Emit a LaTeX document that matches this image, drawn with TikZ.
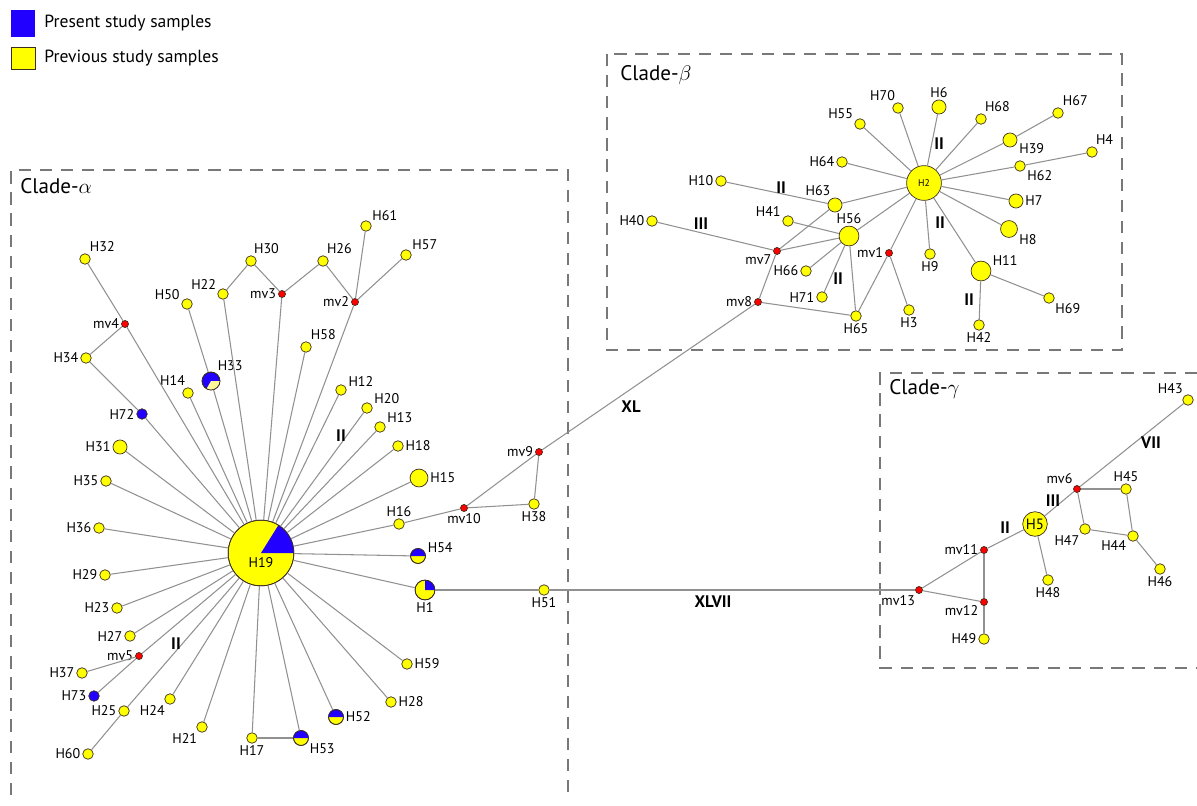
\documentclass[tikz,border=0pt]{standalone}
\usepackage{fontspec}
\setmainfont{PT Sans}
\usetikzlibrary{positioning}
\definecolor{present}{RGB}{34,0,255}
\definecolor{previous}{RGB}{255,255,0}
\definecolor{paleprev}{RGB}{255,248,150}
\definecolor{median}{RGB}{255,0,0}
\definecolor{linkgray}{RGB}{145,145,145}
\definecolor{rimcol}{RGB}{60,45,30}
\definecolor{boxgray}{RGB}{120,120,120}
\begin{document}
\begin{tikzpicture}[x=0.02cm,y=-0.02cm,
	hap/.style={circle,draw=rimcol,fill=previous,inner sep=0pt,minimum size=#1},
	hap/.default=6pt,
	mv/.style={circle,draw=rimcol,fill=median,inner sep=0pt,minimum size=4pt},
	lbl/.style={font=\fontsize{8}{8}\selectfont,inner sep=1pt},
	every label/.style={lbl},
	mut/.style={font=\fontsize{9.5}{9.5}\selectfont\bfseries,inner sep=0pt},
	link/.style={draw=linkgray,line width=0.6pt},
	clade/.style={draw=boxgray,line width=0.6pt,dash pattern=on 7pt off 5pt},
	title/.style={font=\fontsize{12}{12}\selectfont,anchor=west,inner sep=0pt}]
\useasboundingbox (0,0) rectangle (1197,805);

% legend
\node[fill=present,minimum width=13.6pt,minimum height=15.9pt,inner sep=0pt] (keyPresent) at (23,23.5) {};
\node[draw=rimcol,fill=previous,minimum width=13.6pt,minimum height=12.5pt,inner sep=0pt] (keyPrevious) at (23,58.5) {};
\node[right=5pt of keyPresent,inner sep=0pt,font=\fontsize{10}{10}\selectfont] (txtPresent) {Present study samples};
\node[right=5pt of keyPrevious,inner sep=0pt,font=\fontsize{10}{10}\selectfont] (txtPrevious) {Previous study samples};

% clade frames
\draw[clade] (11,795) -- (11,170) -- (568,170) -- (568,795);
\draw[clade] (607,54) rectangle (1122,350);
\draw[clade] (1197,373) -- (880,373) -- (880,668) -- (1197,668);
\node[title] (cladeA) at (20,186) {Clade-$\alpha$};
\node[title] (cladeB) at (620,75) {Clade-$\beta$};
\node[title] (cladeG) at (889,389) {Clade-$\gamma$};

% clade alpha
\node[hap=37.4pt,label={[yshift=-5.5pt]center:H19}] (H19) at (261,553) {};
\node[hap,label=60:H32] (H32) at (85,259) {};
\node[mv,label=left:mv4] (mv4) at (125,324) {};
\node[hap,label=left:H34] (H34) at (86,358) {};
\node[hap,fill=present,label=left:H72] (H72) at (142,414) {};
\node[hap,label=160:H50] (H50) at (187,304) {};
\node[hap,label=150:H22] (H22) at (223,294) {};
\node[hap,label=80:H30] (H30) at (251,261) {};
\node[mv,label=left:mv3] (mv3) at (282,294) {};
\node[hap=10.2pt,fill=present,label=60:H33] (H33) at (211,381) {};
\node[hap,label=100:H14] (H14) at (188,393) {};
\node[hap,label=70:H26] (H26) at (323,261) {};
\node[mv,label=left:mv2] (mv2) at (355,302) {};
\node[hap,label=40:H61] (H61) at (366,226) {};
\node[hap,label=40:H57] (H57) at (406,255) {};
\node[hap,label=60:H58] (H58) at (306,347) {};
\node[hap,label=15:H12] (H12) at (341,390) {};
\node[hap,label=20:H20] (H20) at (367,408) {};
\node[hap,label=20:H13] (H13) at (380,427) {};
\node[hap,label=right:H18] (H18) at (398,446) {};
\node[hap=10.2pt,label=right:H15] (H15) at (419,478) {};
\node[hap,label=above:H16] (H16) at (399,524) {};
\node[mv,label=below:mv10] (mv10) at (464,508) {};
\node[hap,label=below:H38] (H38) at (534,504) {};
\node[mv,label=left:mv9] (mv9) at (539,452) {};
\node[hap=8.5pt,label=10:H54] (H54) at (418,556) {};
\node[hap=11.3pt,label=below:H1] (H1) at (425,590) {};
\node[hap,label=below:H51] (H51) at (544,590) {};
\node[hap,label=right:H59] (H59) at (407,664) {};
\node[hap,label=right:H28] (H28) at (391,702) {};
\node[hap=8.5pt,label=right:H52] (H52) at (336,717) {};
\node[hap=8.5pt,label=-30:H53] (H53) at (301,738) {};
\node[hap,label=below:H17] (H17) at (252,738) {};
\node[hap,label=240:H21] (H21) at (202,727) {};
\node[hap,label=235:H24] (H24) at (170,699) {};
\node[hap,label=left:H25] (H25) at (124,711) {};
\node[hap,label=left:H60] (H60) at (88,754) {};
\node[hap,fill=present,label=left:H73] (H73) at (94,696) {};
\node[hap,label=left:H37] (H37) at (82,673) {};
\node[mv,label=left:mv5] (mv5) at (139,656) {};
\node[hap,label=left:H27] (H27) at (130,636) {};
\node[hap,label=left:H23] (H23) at (117,608) {};
\node[hap,label=left:H29] (H29) at (105,575) {};
\node[hap,label=left:H36] (H36) at (99,528) {};
\node[hap,label=left:H35] (H35) at (106,481) {};
\node[hap=8pt,label=left:H31] (H31) at (120,447) {};

% clade beta
\node[hap=19.8pt,font=\fontsize{5.5}{5.5}\selectfont] (H2) at (924,183) {H2};
\node[hap,label=150:H55] (H55) at (860,124) {};
\node[hap,label=100:H70] (H70) at (898,108) {};
\node[hap=8pt,label=above:H6] (H6) at (939,107) {};
\node[hap,label=70:H68] (H68) at (981,119) {};
\node[hap,label=60:H67] (H67) at (1058,113) {};
\node[hap=8pt,label=-10:H39] (H39) at (1010,140) {};
\node[hap,label=70:H4] (H4) at (1092,152) {};
\node[hap,label=-20:H62] (H62) at (1020,166) {};
\node[hap=8pt,label=right:H7] (H7) at (1016,201) {};
\node[hap=9.6pt,label=-20:H8] (H8) at (1009,229) {};
\node[hap,label=below:H9] (H9) at (930,254) {};
\node[hap=11.3pt,label=20:H11] (H11) at (981,271) {};
\node[hap,label=-40:H69] (H69) at (1049,298) {};
\node[hap,label=below:H3] (H3) at (909,310) {};
\node[hap,label=below:H42] (H42) at (979,325) {};
\node[hap,label=left:H64] (H64) at (842,162) {};
\node[hap,label=left:H10] (H10) at (721,181) {};
\node[hap=8pt,label=110:H63] (H63) at (835,205) {};
\node[hap,label=left:H40] (H40) at (652,221) {};
\node[hap,label=160:H41] (H41) at (788,221) {};
\node[hap=11.3pt,label=above:H56] (H56) at (849,236) {};
\node[mv,label=200:mv7] (mv7) at (777,251) {};
\node[hap,label=left:H66] (H66) at (806,271) {};
\node[hap,label=left:H71] (H71) at (822,297) {};
\node[mv,label=left:mv8] (mv8) at (758,302) {};
\node[hap,label=below:H65] (H65) at (856,316) {};
\node[mv,label=left:mv1] (mv1) at (889,253) {};

% clade gamma
\node[hap,label=125:H43] (H43) at (1188,400) {};
\node[mv,label=130:mv6] (mv6) at (1077,489) {};
\node[hap,label=above:H45] (H45) at (1126,489) {};
\node[hap=14pt,font=\fontsize{8.5}{8.5}\selectfont] (H5) at (1035,524) {H5};
\node[hap,label=230:H47] (H47) at (1085,529) {};
\node[hap,label=210:H44] (H44) at (1133,536) {};
\node[hap,label=below:H46] (H46) at (1160,569) {};
\node[mv,label=left:mv11] (mv11) at (984,550) {};
\node[hap,label=below:H48] (H48) at (1048,580) {};
\node[mv,label=240:mv13] (mv13) at (919,590) {};
\node[mv,label=200:mv12] (mv12) at (984,602) {};
\node[hap,label=left:H49] (H49) at (984,639) {};

% pie slices
\fill[present] (H19.center) -- ++(0:18.7pt) arc[start angle=0,end angle=58,radius=18.7pt] -- cycle;
\draw[rimcol] (H19.center) circle[radius=18.7pt];
\fill[paleprev] (H33.center) -- ++(240:5.1pt) arc[start angle=240,end angle=360,radius=5.1pt] -- cycle;
\draw[rimcol] (H33.center) circle[radius=5.1pt];
\fill[present] (H1.center) -- ++(0:5.65pt) arc[start angle=0,end angle=90,radius=5.65pt] -- cycle;
\draw[rimcol] (H1.center) circle[radius=5.65pt];
\foreach \p in {H54,H52,H53}{
	\fill[present] (\p.center) -- ++(0:4.25pt) arc[start angle=0,end angle=180,radius=4.25pt] -- cycle;
	\draw[rimcol] (\p.center) circle[radius=4.25pt];
}

% links
\foreach \a/\b in {H32/mv4,mv4/H34,mv4/H19,H34/H72,H72/H19,H50/H33,H33/H19,H14/H19,
	H22/H30,H22/H19,H30/mv3,mv3/H26,mv3/H19,H26/mv2,mv2/H61,mv2/H57,mv2/H19,H58/H19,
	H12/H19,H20/H19,H13/H19,H18/H19,H15/H19,H16/H19,H16/mv10,mv10/H38,mv10/mv9,mv9/H38,
	H54/H19,H1/H19,H1/H51,H59/H19,H28/H19,H52/H19,H53/H19,H53/H17,H17/H19,H21/H19,
	H24/H19,H25/H19,H60/H25,mv5/H19,mv5/H37,mv5/H73,H27/H19,H23/H19,H29/H19,H36/H19,
	H35/H19,H31/H19,mv9/mv8,H51/mv13}
	\draw[link] (\a) -- (\b);
\foreach \a/\b in {mv8/mv7,mv8/H65,mv7/H40,mv7/H63,mv7/H56,H10/H63,H63/H2,H41/H56,
	H56/H2,H56/H66,H56/H71,H56/H65,H65/mv1,mv1/H2,mv1/H3,H55/H2,H70/H2,H6/H2,H68/H2,
	H39/H2,H39/H67,H62/H2,H62/H4,H7/H2,H8/H2,H9/H2,H11/H2,H11/H69,H11/H42,H64/H2}
	\draw[link] (\a) -- (\b);
\foreach \a/\b in {mv13/mv11,mv13/mv12,mv11/mv12,mv12/H49,mv11/H5,H5/mv6,mv6/H43,
	H5/H48,mv6/H45,mv6/H47,H47/H44,H45/H44,H44/H46}
	\draw[link] (\a) -- (\b);

% mutation counts
\node[mut] (mutA) at (341,436) {II};
\node[mut] (mutB) at (176,644) {II};
\node[mut] (mutXL) at (631,407) {XL};
\node[mut] (mutXLVII) at (713,602) {XLVII};
\node[mut] (mutC) at (781,188) {II};
\node[mut] (mutD) at (701,224) {III};
\node[mut] (mutE) at (838,279) {II};
\node[mut] (mutF) at (939,144) {II};
\node[mut] (mutG) at (940,223) {II};
\node[mut] (mutH) at (969,300) {II};
\node[mut] (mutVII) at (1151,443) {VII};
\node[mut] (mutI) at (1053,501) {III};
\node[mut] (mutJ) at (1005,528) {II};
\end{tikzpicture}
\end{document}
